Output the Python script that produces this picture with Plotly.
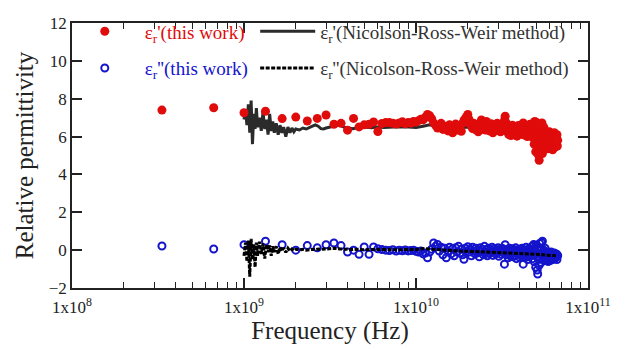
import plotly.graph_objects as go

# ---------------- data ----------------
# measurement grid of "this work": k/3 GHz, k = 1..200
FREQ_STEP_GHZ = 1.0 / 3.0
freq_ghz = [k * FREQ_STEP_GHZ for k in range(1, 201)]

eps_real = [
    7.40, 7.52, 7.26, 7.34, 6.95, 7.03, 6.82, 6.96, 7.14, 6.65,
    6.70, 6.34, 6.96, 6.51, 6.62, 6.65, 6.77, 6.27, 6.69, 6.74,
    6.74, 6.70, 6.66, 6.72, 6.78, 6.68, 6.74, 6.71, 6.80, 6.76,
    6.84, 6.92, 6.88, 7.02, 7.17, 7.10, 6.95,
    6.72, 6.60, 6.45, 6.52, 6.70, 6.38, 6.48, 6.55, 6.30, 6.62,
    6.41, 6.20, 6.50, 6.66, 6.35, 6.44, 6.58, 6.28,
    6.70, 6.85, 6.95, 7.05, 7.17, 6.90, 6.68,
    6.55, 6.42, 6.70, 6.38, 6.60, 6.48, 6.25, 6.66, 6.52, 6.88,
    6.40, 6.72, 6.58, 6.35, 6.80, 6.62, 6.45, 6.30, 6.55, 6.68,
    6.42, 6.20, 6.50, 6.60, 6.38, 6.48, 6.70, 6.32, 6.55, 6.44,
    6.25, 6.62, 6.40, 6.52, 6.36, 6.85, 7.08, 6.75,
    6.40, 6.25, 6.55, 6.10, 6.32, 6.48, 6.05, 6.38, 6.60, 6.22,
    6.30, 6.45, 6.15, 6.52, 6.28, 6.02, 6.40, 6.58, 6.20, 6.35,
    6.12, 6.48, 6.30, 6.62, 6.25, 6.72, 6.38, 6.08, 6.45, 6.22,
    6.55, 6.32, 6.00, 6.40, 6.18, 6.50, 6.28, 6.65, 6.10, 6.35,
    6.20, 6.55, 5.95, 6.70, 6.30, 5.60, 6.80, 6.45, 5.20, 6.75,
    6.10, 5.45, 6.68, 5.05, 6.40, 4.75, 5.80, 6.60, 5.30, 6.25,
    5.55, 6.72, 5.10, 6.05, 5.70, 6.50, 5.35, 6.15, 5.90, 6.30,
    5.60, 6.20, 5.45, 5.85, 6.10, 5.35, 5.95, 5.70, 6.25, 5.50,
    6.00, 5.80, 5.40, 6.15, 5.65, 5.90, 5.30, 6.05, 5.75, 5.55,
    6.20, 5.85, 5.45, 6.00, 5.70, 5.95, 5.60, 6.10, 5.50, 5.80,
]

eps_imag = [
    0.22, 0.06, 0.29, 0.47, 0.29, 0.00, 0.24, 0.12, 0.29, 0.38,
    0.24, -0.10, 0.00, -0.22, 0.17, -0.22, 0.17, 0.07, 0.03, 0.00,
    -0.02, 0.02, -0.05, 0.00, -0.03, 0.01, -0.04, -0.02, 0.00, -0.06,
    -0.10, -0.05, -0.20, -0.15, -0.40, -0.10, 0.05, 0.38, 0.20, 0.30,
    -0.05, 0.15, -0.25, 0.10, -0.40,
    -0.05, 0.15, -0.20, 0.08, -0.30, 0.12, -0.10, 0.20, -0.15, 0.05,
    -0.25, -0.48, 0.10, -0.05, 0.18,
    -0.10, 0.05, -0.30, 0.15, -0.05, -0.20, 0.10, -0.15, 0.00, -0.35,
    0.12, -0.08, 0.05, -0.25, 0.20, -0.12, 0.02, -0.30, 0.10, -0.18,
    0.00, -0.10, 0.15, -0.28, -0.05, 0.08, -0.20, 0.00, -0.15, 0.12,
    -0.32, -0.02, 0.05, -0.22, 0.10, -0.12, -0.05, -0.74, 0.29, -0.10,
    -0.25, 0.05, -0.40, -0.10, 0.10, -0.30, -0.05, -0.20, 0.08, -0.35,
    -0.15, 0.00, -0.28, 0.12, -0.45, -0.10, 0.02, -0.22, -0.05, -0.38,
    0.05, -0.18, -0.30, 0.10, -0.12, -0.74, -0.25, 0.00, -0.40, -0.08,
    0.15, -0.30, -0.15, -0.50, 0.05, -0.20, -0.35, 0.08, -0.10, -0.28,
    -0.15, 0.20, -0.45, -0.05, 0.30, -0.60, 0.10, -0.25, -0.90, 0.25,
    -0.35, -1.05, -1.26, 0.15, -0.50, -0.80, 0.35, -0.20, 0.05, -0.65,
    0.40, -0.30, 0.47, -0.10, -0.45, 0.00, -0.55, -0.20, 0.10, -0.35,
    -0.25, -0.50, -0.10, -0.40, -0.30, -0.60, -0.15, -0.45, -0.35, -0.20,
    -0.55, -0.30, -0.10, -0.45, -0.25, -0.40, -0.50, -0.20, -0.35, -0.30,
    -0.15, -0.45, -0.25, -0.40, -0.30, -0.20, -0.35, -0.50, -0.25, -0.30,
]

nrw_freq_ghz = [
    1.00, 1.02, 1.04, 1.06, 1.08, 1.10, 1.12, 1.14, 1.16, 1.18, 1.20,
    1.23, 1.26, 1.29, 1.32, 1.35, 1.38, 1.41, 1.44, 1.47, 1.50,
    1.54, 1.58, 1.62, 1.66,
    1.70, 1.75, 1.80, 1.85, 1.90, 1.95, 2.00,
    2.1, 2.2, 2.3, 2.4, 2.5, 2.6, 2.7, 2.8, 2.9, 3.0,
    3.2, 3.4, 3.6, 3.8, 4.0,
    4.3, 4.6, 5.0, 5.5, 6.0, 6.5, 7.0,
    8.0, 9.0, 10.0, 11.0, 12.0, 13.0, 14.0,
    16.0, 18.0, 20.0, 23.0, 26.0, 30.0, 35.0, 40.0, 45.0, 50.0, 55.0, 60.0, 65.0,
]

nrw_real = [
    6.9, 7.4, 6.6, 7.7, 6.2, 7.9, 5.6, 7.2, 6.4, 7.5, 6.5,
    7.0, 6.3, 7.3, 6.4, 6.9, 6.1, 7.2, 6.3, 6.8, 6.2,
    6.7, 6.1, 6.6, 6.2,
    6.5, 6.0, 6.5, 6.2, 6.45, 6.25, 6.4,
    6.35, 6.45, 6.40, 6.50, 6.55, 6.62, 6.55, 6.42, 6.40, 6.45,
    6.50, 6.55, 6.62, 6.50, 6.45,
    6.42, 6.48, 6.50, 6.46, 6.50, 6.48, 6.50,
    6.52, 6.50, 6.48, 6.55, 6.62, 6.55, 6.50,
    6.48, 6.45, 6.50, 6.42, 6.40, 6.38, 6.35, 6.32, 6.30, 6.25, 6.20, 6.15, 6.10,
]

nrw_imag = [
    -0.3, 0.4, -0.6, 0.5, -1.4, 0.6, -0.5, 0.3, -0.9, 0.4, -0.3,
    0.45, -0.2, 0.35, -0.45, 0.3, -0.1, 0.25, -0.3, 0.2, -0.1,
    0.2, -0.2, 0.15, -0.05,
    0.12, -0.12, 0.10, -0.05, 0.06, -0.02, 0.05,
    0.02, 0.04, 0.00, 0.03, 0.05, 0.02, 0.06, 0.04, 0.05, 0.07,
    0.08, 0.10, 0.06, 0.04, 0.05,
    0.03, 0.05, 0.02, 0.04, 0.03, 0.02, 0.03,
    0.02, 0.04, 0.03, 0.08, 0.05, 0.02, 0.00,
    -0.02, -0.05, -0.05, -0.08, -0.10, -0.12, -0.15, -0.18, -0.20, -0.22, -0.25, -0.28, -0.30,
]

x_tick_exp = [8, 9, 10, 11]
y_ticks = [-2, 0, 2, 4, 6, 8, 10, 12]

# ---------------- figure ----------------
FONT = "Liberation Serif"
RED = "#e00b0b"
BLUE = "#1414cc"
DARK = "#2b2b2b"

f_hz = [f * 1e9 for f in freq_ghz]
nrw_hz = [f * 1e9 for f in nrw_freq_ghz]

fig = go.Figure()

fig.add_trace(go.Scatter(
    x=nrw_hz, y=nrw_real, mode="lines",
    line=dict(color=DARK, width=3),
    name="<span style='color:#333'>ε<sub>r</sub>'(Nicolson-Ross-Weir method)</span>",
    legend="legend2", legendgroup="a",
))
fig.add_trace(go.Scatter(
    x=f_hz, y=eps_real, mode="markers",
    marker=dict(symbol="circle", size=9, color=RED, line=dict(width=0)),
    name="<span style='color:" + RED + "'>ε<sub>r</sub>'(this work)</span>",
    legend="legend", legendgroup="b",
))
fig.add_trace(go.Scatter(
    x=f_hz, y=eps_imag, mode="markers",
    marker=dict(symbol="circle-open", size=7, color=BLUE, line=dict(width=2, color=BLUE)),
    name="<span style='color:" + BLUE + "'>ε<sub>r</sub>''(this work)</span>",
    legend="legend", legendgroup="c",
))
fig.add_trace(go.Scatter(
    x=nrw_hz, y=nrw_imag, mode="lines",
    line=dict(color="#000000", width=3, dash="4px,1.5px"),
    name="<span style='color:#333'>ε<sub>r</sub>''(Nicolson-Ross-Weir method)</span>",
    legend="legend2", legendgroup="d",
))

minor_vals = [m * 10 ** e for e in range(8, 11) for m in range(2, 10)]

fig.update_layout(
    width=627, height=350,
    margin=dict(l=72, r=39, t=18, b=62),
    paper_bgcolor="white", plot_bgcolor="white",
    font=dict(family=FONT, size=17, color="#222"),
    xaxis=dict(
        type="log", range=[8, 11],
        tickvals=[10 ** e for e in x_tick_exp],
        ticktext=["1x10<sup>%d</sup>" % e for e in x_tick_exp],
        ticks="inside", ticklen=10, tickwidth=1.5, tickcolor="#222",
        ticklabelstandoff=3,
        showline=True, linecolor="#222", linewidth=1.5, mirror="ticks",
        showgrid=False, zeroline=False,
        tickfont=dict(family=FONT, size=17, color="#222"),
        minor=dict(tickvals=minor_vals, ticks="inside", ticklen=6,
                   tickwidth=1.2, tickcolor="#222", showgrid=False),
        title=dict(text="Frequency (Hz)", font=dict(family=FONT, size=25, color="#222"),
                   standoff=1),
    ),
    yaxis=dict(
        range=[-2, 12], tickvals=y_ticks,
        ticks="inside", ticklen=10, tickwidth=1.5, tickcolor="#222",
        showline=True, linecolor="#222", linewidth=1.5, mirror="ticks",
        showgrid=False, zeroline=False,
        tickfont=dict(family=FONT, size=17, color="#222"),
        title=dict(text="Relative permittivity", font=dict(family=FONT, size=25, color="#222"),
                   standoff=8),
    ),
    legend=dict(
        x=-0.014, y=1.04, xanchor="left", yanchor="top",
        bgcolor="rgba(0,0,0,0)", font=dict(family=FONT, size=19),
        tracegroupgap=9, itemwidth=70,
    ),
    legend2=dict(
        x=0.355, y=1.04, xanchor="left", yanchor="top",
        bgcolor="rgba(0,0,0,0)", font=dict(family=FONT, size=19),
        tracegroupgap=9, itemwidth=55,
    ),
    showlegend=True,
)

fig.write_html("out.html")
